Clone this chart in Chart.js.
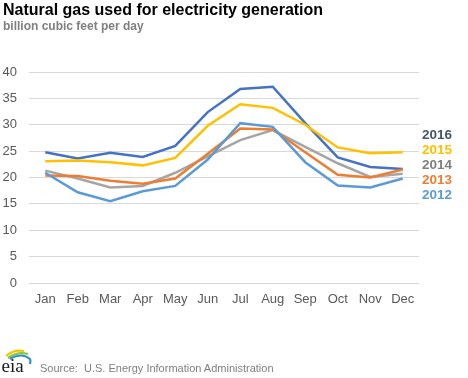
<!DOCTYPE html>
<html>
<head>
<meta charset="utf-8">
<script src="https://cdn.jsdelivr.net/npm/chart.js@4/dist/chart.umd.min.js"></script>
<style>
  html, body { margin: 0; padding: 0; background: #fff; }
  body { width: 468px; height: 378px; position: relative; overflow: hidden; font-family: "Liberation Sans", Arial, sans-serif; }
  #wrap { position: absolute; left: 0; top: 0; width: 468px; height: 378px; }
  .title { position: absolute; left: 3px; top: 1px; font-size: 16px; font-weight: bold; color: #000; white-space: nowrap; }
  .sub { position: absolute; left: 3px; top: 19px; font-size: 12px; font-weight: bold; color: #7f7f7f; white-space: nowrap; }
  .lbl { position: absolute; left: 422px; font-size: 13.5px; font-weight: bold; white-space: nowrap; line-height: 1; }
  .src { position: absolute; left: 40px; top: 362px; font-size: 11px; color: #7f7f7f; white-space: nowrap; }
  #logo { position: absolute; left: 0px; top: 347px; }
</style>
</head>
<body>
<div id="wrap"><canvas id="c" width="468" height="378"></canvas></div>
<div class="title">Natural gas used for electricity generation</div>
<div class="sub">billion cubic feet per day</div>
<div id="labels"></div>
<svg id="logo" width="36" height="30" viewBox="0 0 36 30">
  <path d="M6 9 Q14 2 24 4" stroke="#f2c500" stroke-width="2.2" fill="none"/>
  <path d="M8 11 Q18 4 28 7" stroke="#8cc63f" stroke-width="2.2" fill="none"/>
  <path d="M10 12 Q22 5 30 12 Q31 14 30 17" stroke="#2a8fd0" stroke-width="2.2" fill="none"/>
  <text x="1.5" y="25" font-family="Liberation Serif, serif" font-size="19" fill="#1a1a1a">eia</text>
</svg>
<div class="src">Source:&nbsp; U.S. Energy Information Administration</div>
<script>
const months = ["Jan","Feb","Mar","Apr","May","Jun","Jul","Aug","Sep","Oct","Nov","Dec"];
const seriesNames = ["2016","2015","2014","2013","2012"];
const y2016 = [24.8, 23.6, 24.7, 23.9, 26.0, 32.4, 36.8, 37.2, 30.3, 23.8, 22.0, 21.6];
const y2015 = [23.1, 23.2, 22.9, 22.3, 23.7, 29.8, 33.9, 33.2, 30.0, 25.7, 24.6, 24.8];
const y2014 = [21.3, 19.8, 18.1, 18.4, 20.9, 24.0, 27.1, 29.0, 25.8, 22.7, 20.1, 20.7];
const y2013 = [20.4, 20.3, 19.4, 18.8, 19.8, 24.5, 29.3, 29.1, 24.8, 20.5, 20.0, 21.5];
const y2012 = [20.9, 17.2, 15.5, 17.4, 18.4, 23.4, 30.3, 29.6, 22.9, 18.5, 18.1, 19.8];
const yTicks = [0, 5, 10, 15, 20, 25, 30, 35, 40];

const seriesValues = [y2016, y2015, y2014, y2013, y2012];
const lineColors = ["#4472c4", "#ffc000", "#a5a5a5", "#ed7d31", "#5b9bd5"];
const labelColors = ["#44546a", "#ffc000", "#7f7f7f", "#ed7d31", "#5b9bd5"];
const labelTops = [128, 143, 158, 173, 188];

const lab = document.getElementById('labels');
seriesNames.forEach((n, i) => {
  const d = document.createElement('div');
  d.className = 'lbl';
  d.style.top = labelTops[i] + 'px';
  d.style.color = labelColors[i];
  d.textContent = n;
  lab.appendChild(d);
});

const datasets = seriesNames.map((n, i) => ({
  label: n,
  data: seriesValues[i],
  borderColor: lineColors[i],
  backgroundColor: lineColors[i],
  borderWidth: 2.5,
  pointRadius: 0,
  tension: 0,
  fill: false
})).reverse();

new Chart(document.getElementById('c'), {
  type: 'line',
  data: { labels: months, datasets },
  options: {
    responsive: false,
    animation: false,
    devicePixelRatio: 1,
    layout: { padding: { left: 0, right: 49, top: 72, bottom: 0 } },
    plugins: { legend: { display: false }, tooltip: { enabled: false } },
    scales: {
      x: {
        offset: true,
        grid: { display: false, drawTicks: false },
        border: { display: false },
        ticks: { color: '#595959', font: { family: 'Liberation Sans', size: 13 }, padding: 9, maxRotation: 0, autoSkip: false },
        afterFit: s => { s.height = 95; }
      },
      y: {
        min: 0, max: 40,
        afterBuildTicks: s => { s.ticks = yTicks.map(v => ({ value: v })); },
        grid: { color: '#d9d9d9', lineWidth: 1, drawTicks: false },
        border: { display: false },
        ticks: { color: '#595959', font: { family: 'Liberation Sans', size: 13 }, padding: 12 },
        afterFit: s => { s.width = 29; }
      }
    }
  }
});
</script>
</body>
</html>
